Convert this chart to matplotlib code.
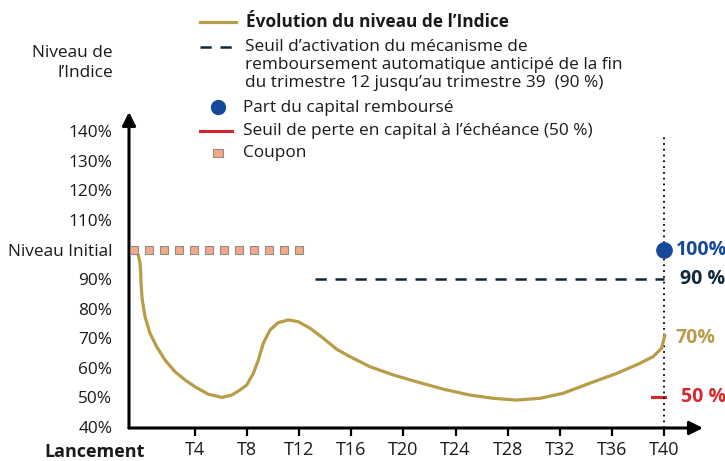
import matplotlib.pyplot as plt
from matplotlib.lines import Line2D
from matplotlib.patches import Rectangle

plt.rcParams['font.family'] = ['Open Sans', 'DejaVu Sans']

# --- data (quarters, index level in % of initial level) ---
quarters = [-0.68, -0.35, -0.22, -0.17, -0.15, -0.05, 0.16, 0.54, 1.06, 1.70,
            2.46, 3.23, 4.00, 5.02, 6.05, 6.82, 7.45, 7.97, 8.47, 8.86, 9.24,
            9.76, 10.39, 11.16, 11.93, 12.83, 13.85, 14.87, 15.89, 16.66,
            17.42, 19.22, 21.01, 23.05, 25.1, 26.89, 28.69, 30.48, 32.26,
            34.31, 36.36, 38.15, 39.17, 39.82, 40.07]
index_level = [100, 98.1, 95.3, 92.0, 88.6, 82.9, 77.3, 71.7, 67.1, 62.6,
               58.7, 55.9, 53.6, 51.1, 50.0, 50.8, 52.5, 54.2, 58.1, 62.6, 68.3,
               72.8, 75.3, 76.2, 75.6, 73.4, 70.0, 66.3, 63.8, 62.1,
               60.4, 57.6, 55.3, 52.8, 50.8, 49.7, 49.1, 49.7, 51.4,
               54.8, 58.1, 61.5, 63.8, 66.6, 71.1]

coupon_quarters = [-0.68, 0.47, 1.62, 2.77, 3.92, 5.07, 6.22, 7.38, 8.53,
                   9.68, 10.83, 11.98]
coupon_level = 100

autocall_start, autocall_end = 13.2, 40
autocall_level = 90
loss_level = 50
maturity = 40
capital_repaid = 100
final_level = 70

yticks = [40, 50, 60, 70, 80, 90, 100, 110, 120, 130, 140]
ytick_labels = ['40%', '50%', '60%', '70%', '80%', '90%', 'Niveau Initial',
                '110%', '120%', '130%', '140%']
xticks = [4, 8, 12, 16, 20, 24, 28, 32, 36, 40]
xtick_labels = ['T%d' % t for t in xticks]

autocall_legend = [
    'Seuil d\u2019activation du m\u00e9canisme de',
    'remboursement automatique anticip\u00e9 de la fin',
    'du trimestre 12 jusqu\u2019au trimestre 39  (90 %)',
]

GOLD = '#b89c48'
NAVY = '#10293a'
BLUE = '#15479b'
RED = '#d7262e'
SALMON = '#f6a784'
TEXT = '#1a1a1a'
FS = 12.4       # legend / y labels
FS_X = 13       # x tick labels
FS_VAL = 14     # right-hand values

W, H = 725, 461


def fx(px):
    return px / W


def fy(py):
    return 1 - py / H


fig = plt.figure(figsize=(W / 100, H / 100), dpi=100)
ax = fig.add_axes([fx(129), fy(428), (703 - 129) / W, (428 - 112) / H])
ax.set_xlim(-1.07, 43.0)
ax.set_ylim(39.66, 146.5)

for s in ax.spines.values():
    s.set_visible(False)

# axes drawn as arrows
ax.annotate('', xy=(0, 1), xytext=(0, 0), xycoords='axes fraction',
            arrowprops=dict(arrowstyle='-|>', lw=2.2, color='black',
                            mutation_scale=20, shrinkA=0, shrinkB=0))
ax.annotate('', xy=(1, 0), xytext=(0, 0), xycoords='axes fraction',
            arrowprops=dict(arrowstyle='-|>', lw=2.2, color='black',
                            mutation_scale=20, shrinkA=0, shrinkB=0))

ax.set_yticks(yticks)
ax.set_yticklabels(ytick_labels, fontsize=FS, color=TEXT)
ax.tick_params(axis='y', length=0, pad=12)
ax.set_xticks(xticks)
ax.set_xticklabels(xtick_labels, fontsize=FS_X, color=TEXT)
ax.tick_params(axis='x', length=6, width=1.6, pad=3, color='black')

# series
ax.plot(quarters, index_level, color=GOLD, lw=2.3, solid_capstyle='round',
        solid_joinstyle='round', zorder=3)
ax.scatter(coupon_quarters, [coupon_level] * len(coupon_quarters), marker='s',
           s=38, color=SALMON, edgecolor='#8c8c8c', linewidth=0.8, zorder=4)
ax.plot([autocall_start, autocall_end], [autocall_level] * 2, color=NAVY,
        lw=1.8, dashes=(4.5, 3.5))
ax.plot([maturity - 0.95, maturity + 0.05], [loss_level] * 2, color=RED, lw=2.2)
ax.plot([maturity, maturity], [39.66, 138.7], color='black', lw=1.3,
        ls=(0, (1, 2.2)), zorder=2)
ax.plot([maturity], [capital_repaid], 'o', color=BLUE, ms=11, zorder=5,
        clip_on=False)

# right-hand value labels (cut at the right edge, as in the source)
ax.text(maturity + 0.95, capital_repaid, '%d%%' % capital_repaid, color=BLUE,
        fontsize=FS_VAL, fontweight='bold', va='center', ha='left')
ax.text(maturity + 1.2, autocall_level, '%d %%' % autocall_level, color=NAVY,
        fontsize=FS_VAL, fontweight='bold', va='center', ha='left')
ax.text(maturity + 0.9, final_level, '%d%%' % final_level, color=GOLD,
        fontsize=FS_VAL, fontweight='bold', va='center', ha='left')
ax.text(maturity + 1.3, loss_level, '%d %%' % loss_level, color=RED,
        fontsize=FS_VAL, fontweight='bold', va='center', ha='left')

# axis titles
fig.text(fx(113), fy(53), 'Niveau de', ha='right', va='center',
         fontsize=FS, color=TEXT)
fig.text(fx(113), fy(73), 'l\u2019Indice', ha='right', va='center',
         fontsize=FS, color=TEXT)
fig.text(fx(95), fy(452), 'Lancement', ha='center', va='center',
         fontsize=FS_X, fontweight='bold', color=TEXT)

# legend (drawn manually)
fig.add_artist(Line2D([fx(200), fx(236)], [fy(22)] * 2, color=GOLD, lw=2.3))
fig.text(fx(246), fy(22), '\u00c9volution du niveau de l\u2019Indice',
         fontsize=FS, fontweight='bold', va='center', color=TEXT)
fig.add_artist(Line2D([fx(200), fx(238)], [fy(47)] * 2, color=NAVY, lw=1.8,
                      dashes=(4.5, 3.5)))
for i, line in enumerate(autocall_legend):
    fig.text(fx(245), fy(47 + 18 * i), line, fontsize=FS, va='center',
             color=TEXT)
fig.add_artist(Line2D([fx(218)], [fy(107)], marker='o', color=BLUE, ms=10))
fig.text(fx(243), fy(108), 'Part du capital rembours\u00e9', fontsize=FS,
         va='center', color=TEXT)
fig.add_artist(Line2D([fx(200), fx(232)], [fy(131)] * 2, color=RED, lw=2.2))
fig.text(fx(243), fy(131), 'Seuil de perte en capital \u00e0 l\u2019\u00e9ch\u00e9ance (50 %)',
         fontsize=FS, va='center', color=TEXT)
fig.add_artist(Rectangle((fx(213), fy(157)), 10 / W, 8 / H, facecolor=SALMON,
                         edgecolor='#8c8c8c', lw=0.8))
fig.text(fx(243), fy(153), 'Coupon', fontsize=FS, va='center', color=TEXT)

fig.savefig('out.png', dpi=100)
